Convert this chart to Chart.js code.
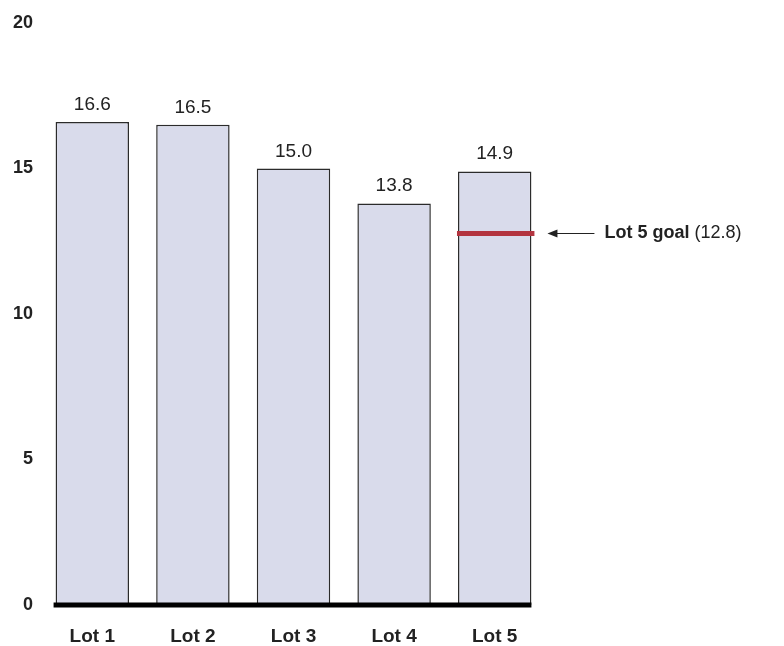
<!DOCTYPE html>
<html>
<head>
<meta charset="utf-8">
<script src="https://cdn.jsdelivr.net/npm/chart.js@4"></script>
<style>
  html, body { margin: 0; padding: 0; background: #fff; }
  #wrap { width: 784px; height: 646px; }
</style>
</head>
<body>
<div id="wrap"><canvas id="lotChart"></canvas></div>
<script>
const lots = ['Lot 1', 'Lot 2', 'Lot 3', 'Lot 4', 'Lot 5'];
const lotValues = [16.6, 16.5, 15.0, 13.8, 14.9];
const goalLot = 4; // index of Lot 5
const goalValue = 12.8;
const yTicks = [0, 5, 10, 15, 20];

const FONT = '"Liberation Sans", Arial, sans-serif';

// value labels, baseline, goal marker + note
const extras = {
    id: 'extras',
    afterDatasetsDraw(chart) {
        const ctx = chart.ctx;
        const bars = chart.getDatasetMeta(0).data;
        const y = chart.scales.y;

        ctx.save();
        ctx.fillStyle = '#222';
        ctx.font = '19px ' + FONT;
        ctx.textAlign = 'center';
        ctx.textBaseline = 'alphabetic';
        bars.forEach((b, i) => {
            ctx.fillText(lotValues[i].toFixed(1), b.x, b.y - 12);
        });

        // thick base line
        const first = bars[0], last = bars[bars.length - 1];
        ctx.strokeStyle = '#000';
        ctx.lineWidth = 5;
        ctx.beginPath();
        ctx.moveTo(first.x - first.width / 2 - 2, y.getPixelForValue(0));
        ctx.lineTo(last.x + last.width / 2, y.getPixelForValue(0));
        ctx.stroke();

        // goal line on Lot 5
        const gb = bars[goalLot];
        const gy = y.getPixelForValue(goalValue) + 1;
        ctx.strokeStyle = '#b3343f';
        ctx.lineWidth = 5;
        ctx.beginPath();
        ctx.moveTo(gb.x - gb.width / 2 - 1, gy);
        ctx.lineTo(gb.x + gb.width / 2 + 3, gy);
        ctx.stroke();

        // arrow
        const ax0 = gb.x + gb.width / 2 + 16;
        const ax1 = ax0 + 47;
        ctx.strokeStyle = '#222';
        ctx.fillStyle = '#222';
        ctx.lineWidth = 1.2;
        ctx.beginPath();
        ctx.moveTo(ax0 + 6, gy);
        ctx.lineTo(ax1, gy);
        ctx.stroke();
        ctx.beginPath();
        ctx.moveTo(ax0, gy);
        ctx.lineTo(ax0 + 10, gy - 4);
        ctx.lineTo(ax0 + 10, gy + 4);
        ctx.closePath();
        ctx.fill();

        // note text
        ctx.textAlign = 'left';
        ctx.textBaseline = 'middle';
        ctx.font = 'bold 18px ' + FONT;
        const bold = lots[goalLot] + ' goal';
        const tx = ax1 + 10;
        ctx.fillText(bold, tx, gy);
        const w = ctx.measureText(bold + ' ').width;
        ctx.font = '18px ' + FONT;
        ctx.fillText('(' + goalValue.toFixed(1) + ')', tx + w, gy);
        ctx.restore();
    }
};

new Chart(document.getElementById('lotChart'), {
    type: 'bar',
    data: {
        labels: lots,
        datasets: [{
            data: lotValues,
            backgroundColor: '#d9dbeb',
            borderColor: '#2b2b2b',
            borderWidth: 1.5,
            categoryPercentage: 1,
            barPercentage: 0.73
        }]
    },
    options: {
        responsive: true,
        maintainAspectRatio: false,
        animation: false,
        layout: { padding: { left: 10, right: 239, top: 23, bottom: 0 } },
        plugins: {
            legend: { display: false },
            tooltip: { enabled: false }
        },
        scales: {
            x: {
                grid: { display: false, drawTicks: false },
                border: { display: false },
                ticks: {
                    color: '#222',
                    font: { family: FONT, size: 19, weight: 'bold' },
                    padding: 20
                },
                afterFit(s) { s.height = 41; }
            },
            y: {
                min: 0,
                max: 20,
                grid: { display: false, drawTicks: false },
                border: { display: false },
                afterBuildTicks(s) { s.ticks = yTicks.map(v => ({ value: v })); },
                ticks: {
                    color: '#222',
                    font: { family: FONT, size: 18, weight: 'bold' },
                    padding: 9
                },
                afterFit(s) { s.width = 32; }
            }
        }
    },
    plugins: [extras]
});
</script>
</body>
</html>
